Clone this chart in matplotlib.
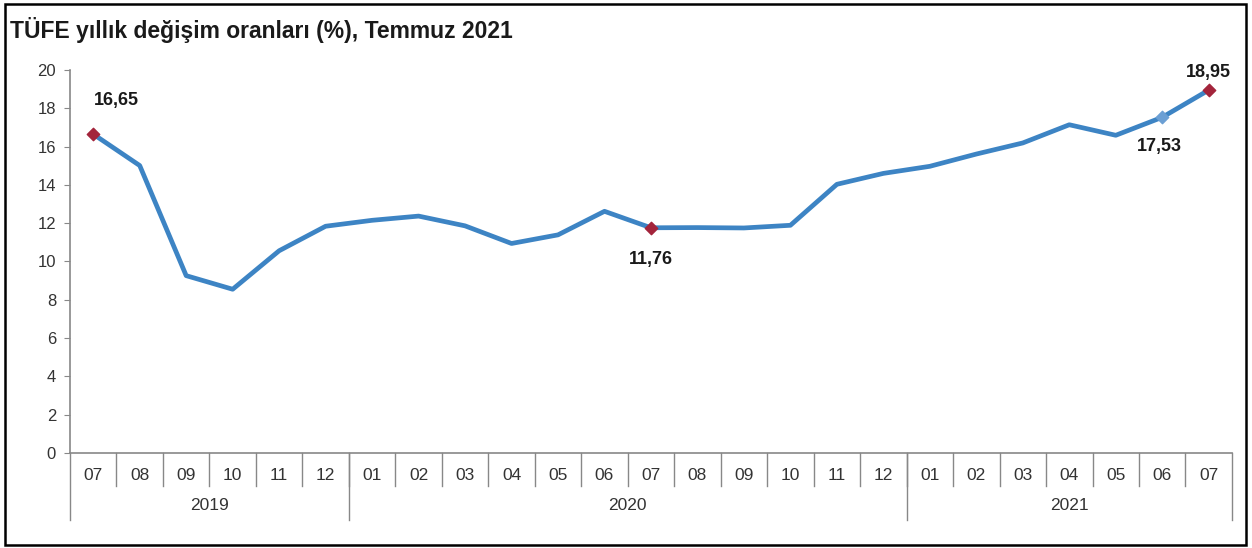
import matplotlib.pyplot as plt
from matplotlib.patches import Rectangle

# Datos del gráfico
aylar = ["07", "08", "09", "10", "11", "12",
         "01", "02", "03", "04", "05", "06", "07", "08", "09", "10", "11", "12",
         "01", "02", "03", "04", "05", "06", "07"]
yillar = ["2019", "2020", "2021"]
yil_uzunluk = [6, 12, 7]
tufe = [16.65, 15.01, 9.26, 8.55, 10.56, 11.84,
        12.15, 12.37, 11.86, 10.94, 11.39, 12.62, 11.76, 11.77, 11.75, 11.89, 14.03, 14.60,
        14.97, 15.61, 16.19, 17.14, 16.59, 17.53, 18.95]
kirmizi_nokta = [0, 12, 24]
mavi_nokta = [23]

plt.rcParams['font.family'] = ['Liberation Sans', 'DejaVu Sans']

fig = plt.figure(figsize=(12.52, 5.48), dpi=100)
fig.patches.append(Rectangle((0.004, 0.006), 0.991, 0.986, transform=fig.transFigure,
                             fill=False, edgecolor='black', linewidth=1.8))
ax = fig.add_axes([0.0559, 0.1734, 0.9281, 0.6989])

x = list(range(len(tufe)))
ax.plot(x, tufe, color='#3d84c4', linewidth=3.4, solid_joinstyle='round', zorder=2)
ax.scatter([x[i] for i in kirmizi_nokta], [tufe[i] for i in kirmizi_nokta],
           marker='D', s=40, color='#a3243b', zorder=3)
ax.scatter([x[i] for i in mavi_nokta], [tufe[i] for i in mavi_nokta],
           marker='D', s=40, color='#6b9fd4', zorder=3)

# Etiketler
etiketler = {0: (17, 24), 12: (0, -23), 23: (-2, -21), 24: (0, 13)}
for i, (dx, dy) in etiketler.items():
    ax.annotate(f"{tufe[i]:.2f}".replace('.', ','), (x[i], tufe[i]),
                xytext=(dx, dy), textcoords='offset points',
                ha='center', va='center', fontsize=13, fontweight='bold', color='#1a1a1a')

ax.set_xlim(-0.5, len(tufe) - 0.5)
ax.set_ylim(0, 20)
ax.set_yticks(range(0, 21, 2))
ax.tick_params(axis='y', labelsize=12, colors='#333333', length=4, color='#888888', pad=6)
ax.set_xticks([])
for s in ['top', 'right']:
    ax.spines[s].set_visible(False)
for s in ['left', 'bottom']:
    ax.spines[s].set_color('#888888')
    ax.spines[s].set_linewidth(1.2)

# Kategori eksenleri
trans = ax.get_xaxis_transform()
for i, ay in enumerate(aylar):
    ax.text(i, -0.058, ay, transform=trans, ha='center', va='center',
            fontsize=12.5, color='#333333')
for i in range(1, len(aylar)):
    ax.plot([i - 0.5, i - 0.5], [0, -0.087], transform=trans, color='#888888',
            linewidth=1, clip_on=False)
bas = -0.5
for yil, n in zip(yillar, yil_uzunluk):
    ax.plot([bas, bas], [0, -0.175], transform=trans, color='#888888',
            linewidth=1, clip_on=False)
    ax.text(bas + n / 2, -0.137, yil, transform=trans, ha='center', va='center',
            fontsize=12.5, color='#333333')
    bas += n
ax.plot([bas, bas], [0, -0.175], transform=trans, color='#888888',
        linewidth=1, clip_on=False)

fig.text(0.008, 0.945, "TÜFE yıllık değişim oranları (%), Temmuz 2021",
         fontsize=16.5, fontweight='bold', color='#1a1a1a', va='center')

fig.savefig("out.png", dpi=100)
